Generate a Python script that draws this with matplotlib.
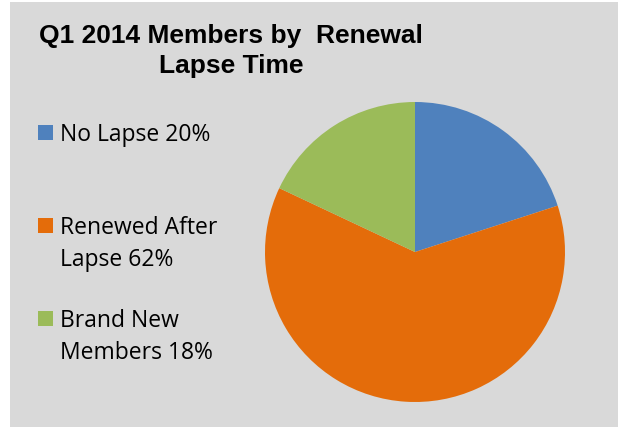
import matplotlib.pyplot as plt
from matplotlib.patches import Rectangle

# ---------- dados ----------
categorias = ["No Lapse", "Renewed After\nLapse", "Brand New\nMembers"]
percentuais = [20, 62, 18]
cores = ["#4F81BD", "#E46C0A", "#9BBB59"]
titulo = ["Q1 2014 Members by  Renewal", "Lapse Time"]

W, H = 618, 431

def fx(px):
    return px / W

def fy(py):
    return 1 - py / H

fig = plt.figure(figsize=(W / 100, H / 100), dpi=100)
fig.patch.set_facecolor("white")

# fundo cinza da área do gráfico
fig.add_artist(Rectangle((fx(10), fy(428)), 1 - fx(10), fy(3) - fy(428),
                         transform=fig.transFigure, facecolor="#D9D9D9",
                         edgecolor="none", zorder=0))

# ---------- pizza ----------
cx, cy, r = 415, 253, 150
ax = fig.add_axes([fx(cx - r), fy(cy + r), fx(2 * r), fy(cy - r) - fy(cy + r)])
ax.pie(percentuais, colors=cores, startangle=90, counterclock=False,
       wedgeprops=dict(linewidth=0))
ax.set_xlim(-1, 1)
ax.set_ylim(-1, 1)
ax.set_aspect("equal")
ax.axis("off")

# ---------- título (uma linha por vez, pela linha de base) ----------
for i, linha in enumerate(titulo):
    fig.text(fx(231), fy(43 + 30 * i), linha, ha="center", va="baseline",
             fontsize=19, fontweight="bold", family="Liberation Sans")

# ---------- legenda ----------
legenda_y = [141, 234, 327]   # linha de base da primeira linha de cada item
for nome, pct, cor, y in zip(categorias, percentuais, cores, legenda_y):
    fig.add_artist(Rectangle((fx(38), fy(y)), fx(15), fy(y - 15) - fy(y),
                             transform=fig.transFigure, facecolor=cor,
                             edgecolor="none"))
    linhas = f"{nome} {pct}%".split("\n")
    for j, linha in enumerate(linhas):
        fig.text(fx(60), fy(y + 32 * j), linha, ha="left", va="baseline",
                 fontsize=16.5, family="Open Sans")

fig.savefig("out.png", dpi=100)
